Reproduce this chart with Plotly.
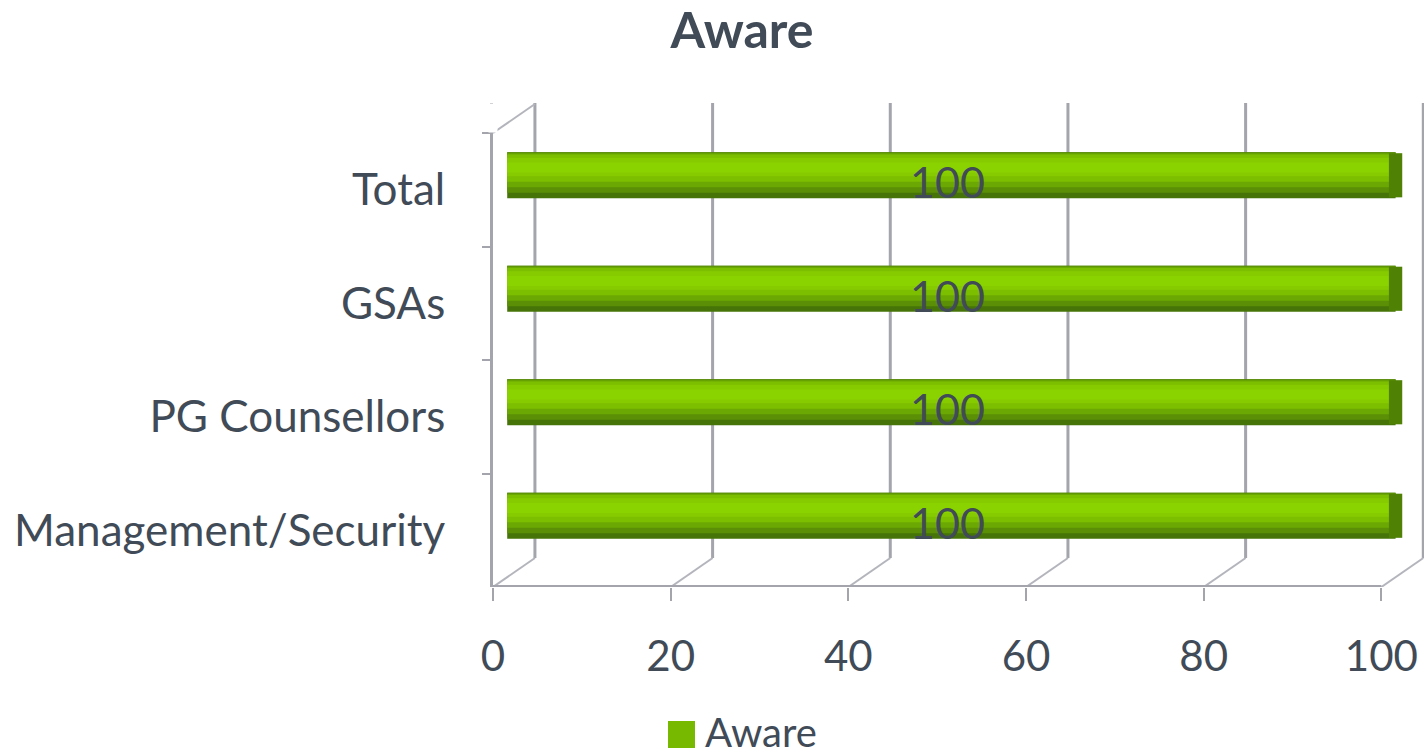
import plotly.graph_objects as go

# ---- data ----
categories = ["Management/Security", "PG Counsellors", "GSAs", "Total"]
aware_values = [100, 100, 100, 100]
x_ticks = [0, 20, 40, 60, 80, 100]
series_name = "Aware"
chart_title = "Aware"

# ---- style ----
FONT = "Lato, 'Open Sans', sans-serif"
TEXT_COLOR = "#404B57"
GRID_COLOR = "#A3A4AC"
DEPTH_X = 4.72      # 3-D depth in x units
DEPTH_Y = 0.2555    # 3-D depth in category units
BAR_W = 0.405
BAR_C = DEPTH_Y / 2
BASE = 1.6
CAP = 1.5
Y_TOP = 3.5 + DEPTH_Y + 0.009
X_END = 104.8

# shading layers (fraction of bar height from bottom, colour)
layers = [
    (0.00, 1.00, "#467409"),
    (0.12, 1.00, "#5A8F06"),
    (0.24, 0.98, "#6CA803"),
    (0.36, 0.95, "#7CBE00"),
    (0.48, 0.88, "#86CB00"),
    (0.56, 0.78, "#8AD200"),
]

fig = go.Figure()
for lo, hi, col in layers:
    fig.add_trace(go.Bar(
        y=categories, x=aware_values, base=BASE, orientation="h",
        width=(hi - lo) * BAR_W,
        offset=BAR_C - BAR_W / 2 + lo * BAR_W,
        marker=dict(color=col, line=dict(width=0)),
        showlegend=False, hoverinfo="skip",
    ))
# darker end cap
fig.add_trace(go.Bar(
    y=categories, x=[CAP] * len(aware_values),
    base=[BASE + v - CAP / 2 for v in aware_values], orientation="h",
    width=BAR_W * 0.96, offset=BAR_C - BAR_W / 2 + 0.02 * BAR_W,
    marker=dict(color="#4F8204", line=dict(width=0)),
    showlegend=False, hoverinfo="skip",
))

shapes = []
n = len(categories)
for v in x_ticks:
    shapes.append(dict(type="line", xref="x", yref="y",
                       x0=v + DEPTH_X, x1=v + DEPTH_X, y0=-0.5 + DEPTH_Y, y1=Y_TOP,
                       line=dict(color=GRID_COLOR, width=3), layer="below"))
    shapes.append(dict(type="line", xref="x", yref="y",
                       x0=v, x1=v + DEPTH_X, y0=-0.5, y1=-0.5 + DEPTH_Y,
                       line=dict(color="#B4B5BC", width=2), layer="below"))
shapes.append(dict(type="line", xref="x", yref="y", x0=0, x1=x_ticks[-1],
                   y0=-0.5, y1=-0.5, line=dict(color=GRID_COLOR, width=4), layer="below"))
shapes.append(dict(type="line", xref="x", yref="y", x0=0, x1=DEPTH_X,
                   y0=n - 0.5, y1=n - 0.5 + DEPTH_Y,
                   line=dict(color="#B4B5BC", width=2), layer="below"))
# legend square
shapes.append(dict(type="rect", xref="paper", yref="paper",
                   x0=668 / 1424, x1=695 / 1424, y0=1 - 748 / 755, y1=1 - 721 / 755,
                   fillcolor="#77B800", line=dict(width=0)))

annotations = []
for c, v in zip(categories, aware_values):
    annotations.append(dict(x=BASE + v / 2 - 0.4, y=c, xref="x", yref="y", text=str(v),
                            showarrow=False, yshift=8,
                            font=dict(family=FONT, size=43, color=TEXT_COLOR)))
annotations.append(dict(x=704 / 1424, y=1 - 732 / 755, xref="paper", yref="paper",
                        xanchor="left", yanchor="middle", text=series_name, showarrow=False,
                        borderpad=0,
                        font=dict(family=FONT, size=40, color=TEXT_COLOR)))
# mask the part of the front wall edge above the top boundary
annotations.append(dict(x=493 / 1424, y=1 - 103 / 755, xref="paper", yref="paper",
                        xanchor="center", yanchor="top", text=" ", showarrow=False,
                        width=8, height=28, bgcolor="white", borderpad=0,
                        font=dict(size=10)))

fig.update_layout(
    width=1424, height=755,
    margin=dict(l=0, r=0, t=0, b=0, autoexpand=False),
    paper_bgcolor="white", plot_bgcolor="white",
    barmode="overlay",
    title=dict(text="<b>" + chart_title + "</b>", x=742 / 1424, xanchor="center",
               y=1 - 30 / 755, yanchor="middle", yref="container",
               font=dict(family=FONT, size=50, color=TEXT_COLOR)),
    xaxis=dict(range=[0, X_END], domain=[493 / 1424, 1], automargin=False,
               tickvals=x_ticks, ticktext=[str(t) for t in x_ticks],
               ticks="outside", ticklen=13, tickwidth=2, tickcolor=GRID_COLOR,
               showgrid=False, zeroline=False, showline=False,
               ticklabelstandoff=20,
               tickfont=dict(family=FONT, size=42, color=TEXT_COLOR)),
    yaxis=dict(type="category", categoryorder="array", categoryarray=categories,
               range=[-0.5, Y_TOP], domain=[(755 - 587) / 755, (755 - 103) / 755],
               automargin=False,
               tickson="boundaries", ticks="outside", ticklen=8, tickwidth=2,
               tickcolor=GRID_COLOR, showgrid=False, zeroline=False,
               showline=True, linecolor=GRID_COLOR, linewidth=3,
               ticklabelstandoff=36,
               tickfont=dict(family=FONT, size=44, color=TEXT_COLOR)),
    shapes=shapes,
    annotations=annotations,
    showlegend=False,
)

fig.write_html("out.html")
